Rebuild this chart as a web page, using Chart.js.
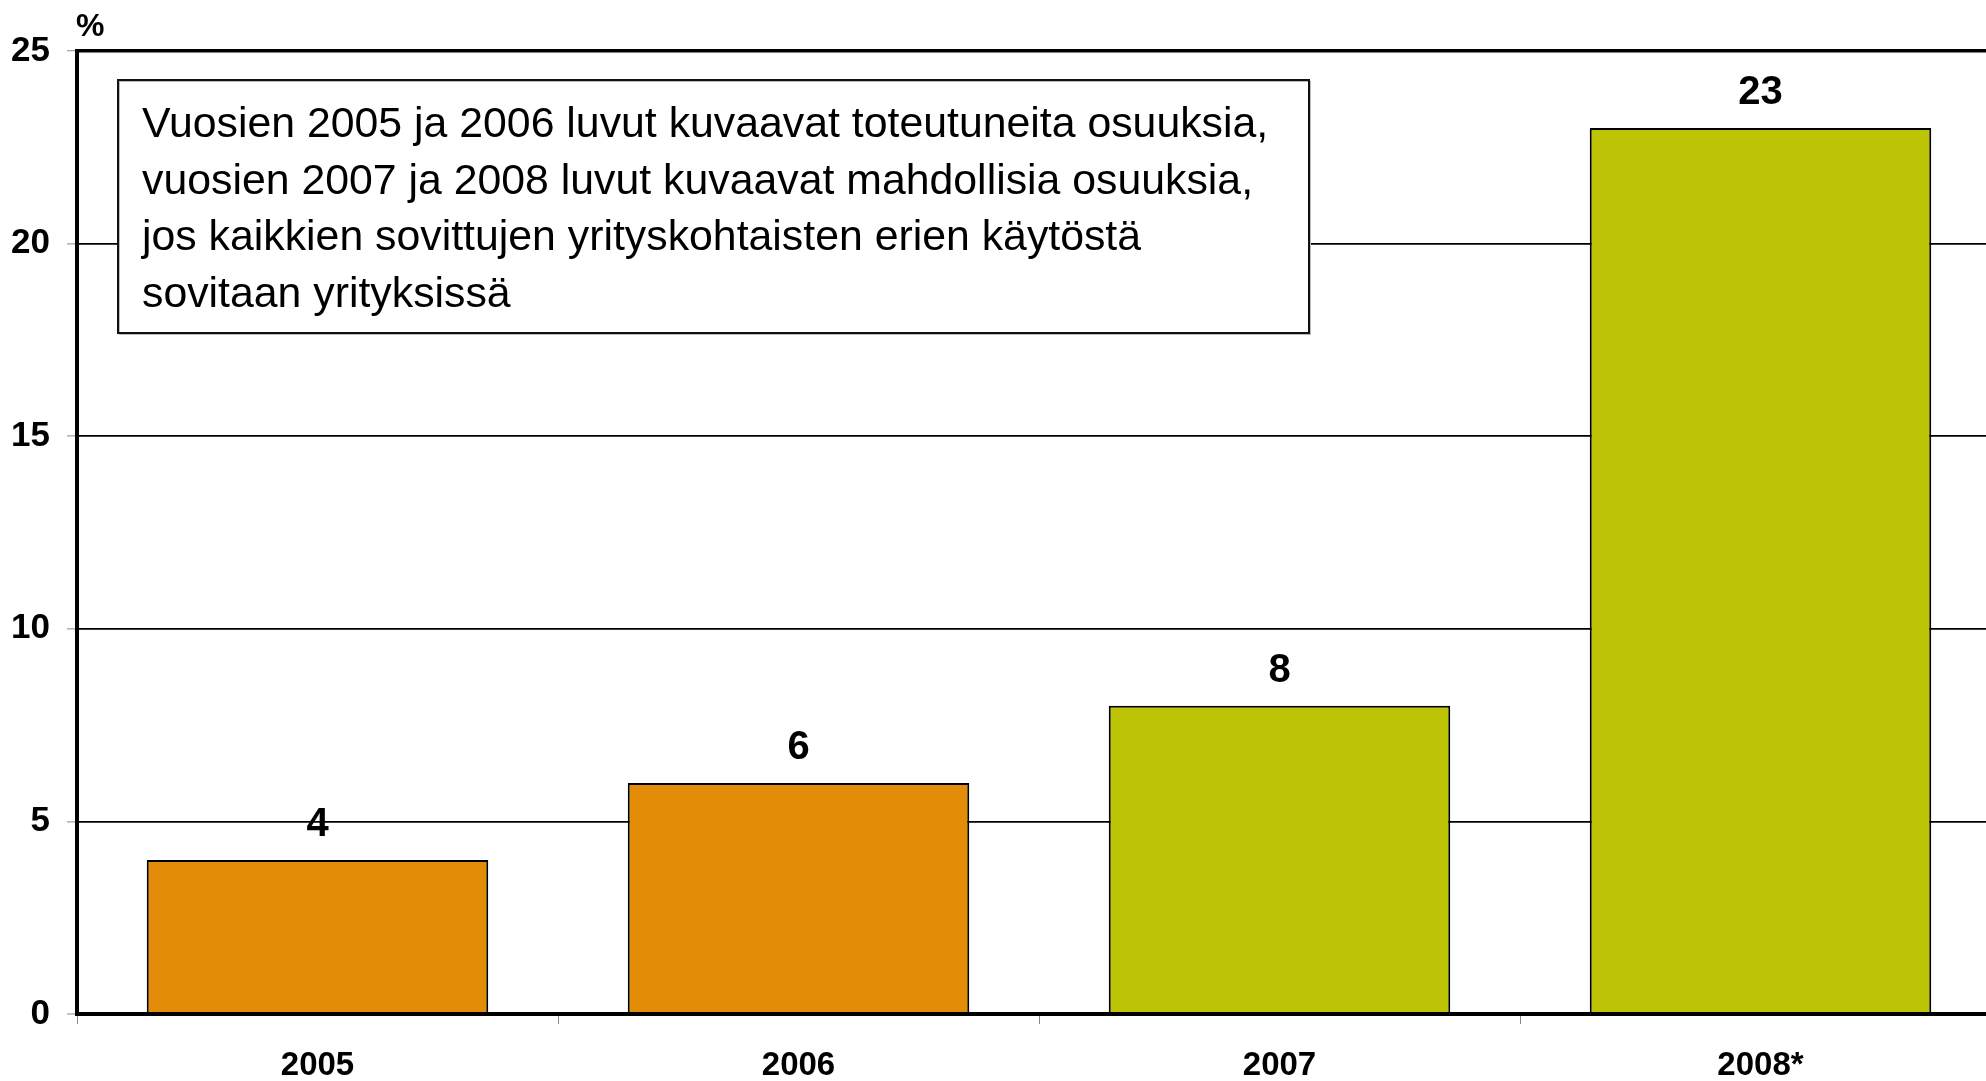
<!DOCTYPE html>
<html>
<head>
<meta charset="utf-8">
<script src="https://cdn.jsdelivr.net/npm/chart.js@4/dist/chart.umd.min.js"></script>
<style>
  html, body { margin: 0; padding: 0; background: #fff; overflow: hidden; }
  /* plot frame runs off the right edge in the original, so the canvas is a bit wider than the window */
  #wrap { width: 2001px; height: 1081px; position: relative; }
</style>
</head>
<body>
<div id="wrap"><canvas id="shareChart"></canvas></div>
<script>
// Data
const years = ['2005', '2006', '2007', '2008*'];
const shares = [4, 6, 8, 23];
const yTicks = [0, 5, 10, 15, 20, 25];
const noteLines = [
    'Vuosien 2005 ja 2006 luvut kuvaavat toteutuneita osuuksia,',
    'vuosien 2007 ja 2008 luvut kuvaavat mahdollisia osuuksia,',
    'jos kaikkien sovittujen yrityskohtaisten erien käytöstä',
    'sovitaan yrityksissä'
];

// realised years orange, possible years green
const barColors = ['#E38C07', '#E38C07', '#BCC405', '#BCC405'];
const FONT = '"Liberation Sans", Arial, sans-serif';

// value labels above the bars
const valueLabels = {
    id: 'valueLabels',
    afterDatasetsDraw(chart) {
        const ctx = chart.ctx;
        const meta = chart.getDatasetMeta(0);
        ctx.save();
        ctx.fillStyle = '#000';
        ctx.font = 'bold 40px ' + FONT;
        ctx.textAlign = 'center';
        ctx.textBaseline = 'alphabetic';
        meta.data.forEach((bar, i) => {
            ctx.fillText(String(shares[i]), bar.x, bar.y - 24);
        });
        ctx.restore();
    }
};

// unit label and the note box
const extras = {
    id: 'extras',
    afterDraw(chart) {
        const ctx = chart.ctx;
        const area = chart.chartArea;
        ctx.save();
        ctx.fillStyle = '#000';
        ctx.font = 'bold 32px ' + FONT;
        ctx.textAlign = 'left';
        ctx.textBaseline = 'alphabetic';
        ctx.fillText('%', area.left - 1, 36);

        // note box
        const bx = 118, by = 80, bw = 1191, bh = 253;
        ctx.fillStyle = '#fff';
        ctx.fillRect(bx, by, bw, bh);
        ctx.strokeStyle = '#bbb';
        ctx.lineWidth = 1;
        ctx.strokeRect(bx + 1.5, by + 1.5, bw, bh);
        ctx.strokeStyle = '#111';
        ctx.lineWidth = 2;
        ctx.strokeRect(bx, by, bw, bh);

        ctx.fillStyle = '#000';
        ctx.font = '42.8px ' + FONT;
        noteLines.forEach((line, i) => {
            ctx.fillText(line, 142, 137 + i * 56.6);
        });
        ctx.restore();
    }
};

const ctx = document.getElementById('shareChart').getContext('2d');
new Chart(ctx, {
    type: 'bar',
    data: {
        labels: years,
        datasets: [{
            data: shares,
            backgroundColor: barColors,
            borderColor: '#000',
            borderWidth: 2,
            borderSkipped: false,
            barPercentage: 0.71,
            categoryPercentage: 1.0
        }]
    },
    options: {
        responsive: true,
        maintainAspectRatio: false,
        animation: false,
        layout: { padding: { top: 51, right: 0, bottom: 0, left: 0 } },
        plugins: {
            legend: { display: false },
            tooltip: { enabled: false }
        },
        scales: {
            x: {
                afterFit(scale) { scale.height = 67; },
                grid: {
                    drawOnChartArea: false,
                    tickLength: 10,
                    tickColor: '#888',
                    tickWidth: 1
                },
                border: { color: '#000', width: 4 },
                ticks: {
                    color: '#000',
                    padding: 22,
                    font: { family: FONT, size: 33, weight: 'bold' }
                }
            },
            y: {
                min: 0,
                max: 25,
                afterFit(scale) { scale.width = 77; },
                afterBuildTicks(scale) {
                    scale.ticks = yTicks.map(v => ({ value: v }));
                },
                grid: {
                    color: '#000',
                    lineWidth: c => (c.tick && c.tick.value === 25 ? 3.5 : (c.tick && c.tick.value === 0 ? 0 : 1.8)),
                    tickLength: 10,
                    tickColor: '#888',
                    tickWidth: 1
                },
                border: { color: '#000', width: 4 },
                ticks: {
                    color: '#000',
                    padding: 17,
                    font: { family: FONT, size: 35, weight: 'bold' }
                }
            }
        }
    },
    plugins: [valueLabels, extras]
});
</script>
</body>
</html>
